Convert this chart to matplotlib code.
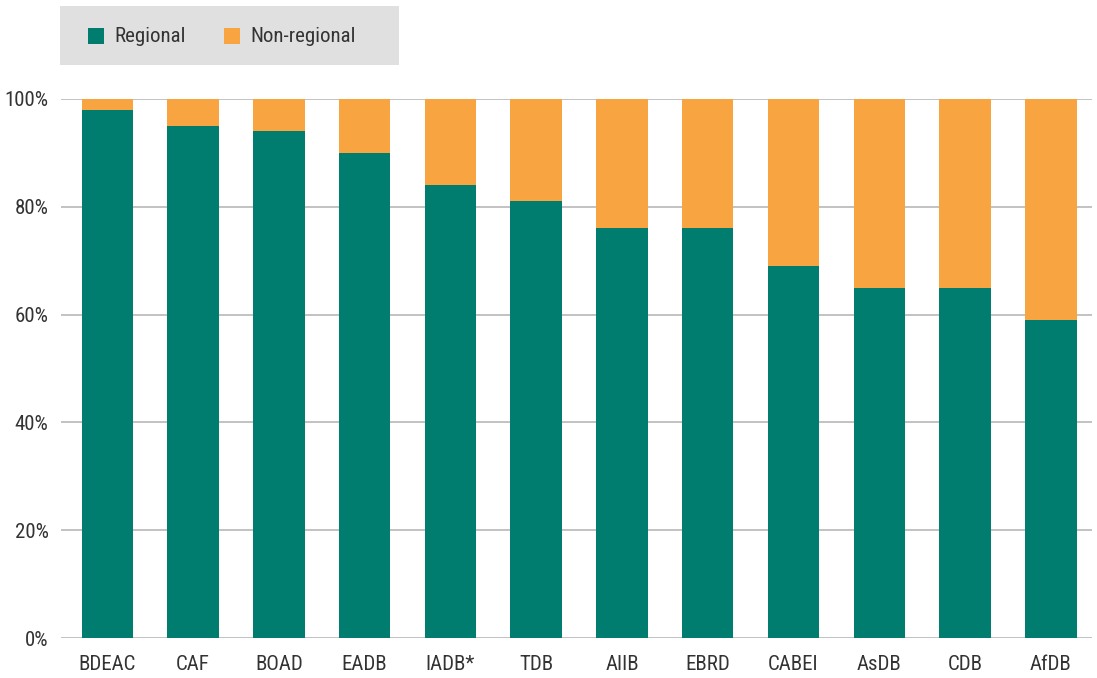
import matplotlib
matplotlib.use("Agg")
import matplotlib.pyplot as plt
from matplotlib.patches import Rectangle
from matplotlib import font_manager

categories = ["BDEAC", "CAF", "BOAD", "EADB", "IADB*", "TDB", "AIIB", "EBRD", "CABEI", "AsDB", "CDB", "AfDB"]
regional = [98, 95, 94, 90, 84, 81, 76, 76, 69, 65, 65, 59]
non_regional = [100 - v for v in regional]
yticks = [0, 20, 40, 60, 80, 100]
ytick_labels = ["0%", "20%", "40%", "60%", "80%", "100%"]

GREEN = "#007d6e"
ORANGE = "#f8a541"
TEXT = "#333333"
GRID = "#bdbdbd"

names = {f.name for f in font_manager.fontManager.ttflist}
fam = "Roboto"
for cand in ["Roboto Condensed", "Liberation Sans Narrow", "Open Sans Condensed", "DejaVu Sans Condensed"]:
    if cand in names:
        fam = cand
        break
plt.rcParams["font.family"] = [fam, "DejaVu Sans"]
fs = 15 if fam != "Roboto" else 14.5

W, H = 1097, 678
fig = plt.figure(figsize=(W / 100, H / 100), dpi=100)
ax = fig.add_axes([61 / W, 1 - 638 / H, (1092 - 61) / W, (638 - 99) / H])

x = list(range(len(categories)))
ax.bar(x, regional, width=0.6, color=GREEN, zorder=3)
ax.bar(x, non_regional, bottom=regional, width=0.6, color=ORANGE, zorder=3)

ax.set_xlim(-0.54, len(categories) - 1 + 0.48)
ax.set_ylim(0, 100)
ax.set_yticks(yticks)
ax.set_yticklabels(ytick_labels)
ax.set_xticks(x)
ax.set_xticklabels(categories)
ax.tick_params(axis="both", length=0, labelsize=fs, colors=TEXT)
ax.tick_params(axis="x", pad=12)
ax.tick_params(axis="y", pad=9)
ax.grid(axis="y", color=GRID, linewidth=1.3, zorder=0)
ax.set_axisbelow(True)
for s in ax.spines.values():
    s.set_visible(False)

# legend box
lx0, ly0, lx1, ly1 = 60, 6, 399, 65
fig.patches.append(Rectangle((lx0 / W, 1 - ly1 / H), (lx1 - lx0) / W, (ly1 - ly0) / H,
                             transform=fig.transFigure, facecolor="#e0e0e0", edgecolor="none"))
for sx, tx, col, lab in [(88, 114, GREEN, "Regional"), (224, 250, ORANGE, "Non-regional")]:
    fig.patches.append(Rectangle((sx / W, 1 - 44 / H), 16 / W, 16 / H,
                                 transform=fig.transFigure, facecolor=col, edgecolor="none"))
    fig.text(tx / W, 1 - 36 / H, lab, fontsize=fs, color=TEXT, va="center", ha="left")

fig.savefig("out.png", dpi=100)
